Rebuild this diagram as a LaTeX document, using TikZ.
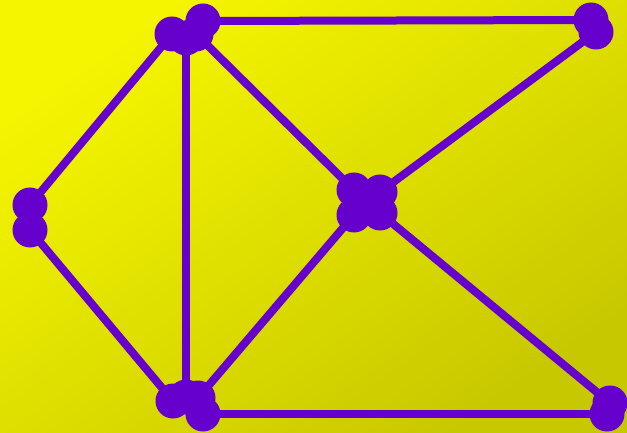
\documentclass[tikz,border=0pt]{standalone}
\begin{document}
\begin{tikzpicture}[x=1pt,y=-1pt,
  dot/.style={circle,fill=edgecol,minimum size=35pt,inner sep=0pt,outer sep=0pt},
  link/.style={draw=edgecol,line width=8pt}]
\definecolor{edgecol}{HTML}{6600CC}
\definecolor{bgA}{HTML}{F5F500}
\definecolor{bgC}{HTML}{C8C800}
\useasboundingbox (0,0) rectangle (627,433);
\shade[top color=bgA,bottom color=bgC,shading angle=35] (0,0) rectangle (627,433);
% endpoint dots
\node[dot] (a1) at (203,21) {};
\node[dot] (b1) at (591,20) {};
\node[dot] (a2) at (172,34) {};
\node[dot] (c1) at (30,205) {};
\node[dot] (a3) at (186,38) {};
\node[dot] (d1) at (186,397) {};
\node[dot] (a4) at (196,34) {};
\node[dot] (e1) at (354,190) {};
\node[dot] (e2) at (380,192) {};
\node[dot] (b2) at (596,32) {};
\node[dot] (c2) at (30,230) {};
\node[dot] (d2) at (173,401) {};
\node[dot] (d3) at (198,398) {};
\node[dot] (e3) at (354,215) {};
\node[dot] (e4) at (380,213) {};
\node[dot] (f1) at (610,403) {};
\node[dot] (d4) at (203,414) {};
\node[dot] (f2) at (607,414) {};
% connectors
\draw[link] (a1.center) -- (b1.center);
\draw[link] (c1.center) -- (a2.center);
\draw[link] (a3.center) -- (d1.center);
\draw[link] (a4.center) -- (e1.center);
\draw[link] (e2.center) -- (b2.center);
\draw[link] (c2.center) -- (d2.center);
\draw[link] (d3.center) -- (e3.center);
\draw[link] (e4.center) -- (f1.center);
\draw[link] (d4.center) -- (f2.center);
\end{tikzpicture}
\end{document}
